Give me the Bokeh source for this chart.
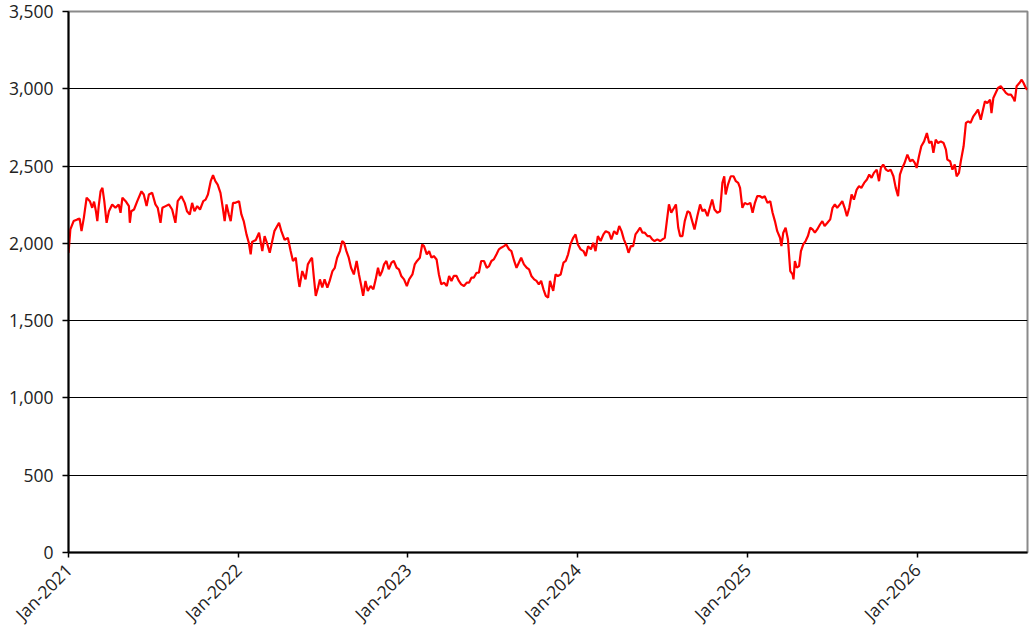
import math
import pandas as pd
from bokeh.plotting import figure
from bokeh.models import Range1d, FixedTicker, NumeralTickFormatter, DatetimeTickFormatter
from bokeh.embed import file_html
from bokeh.resources import INLINE

# ---- data (days since 2021-01-01, index level) ----
start_date = "2021-01-01"
days_a = [0,1,4,11,19,24,28,33,39,46,51,55,59,62,65,69,73,77,82,87,94,101,108,112,116,123,130,132,135,141,
          148,157,162,168,173,180,187,192,198,202,209,216,223,230,235,243,250,255,261,266,271,277,283,290,295,300,
          306,311,316,321,327,332,336,340,345,349,354,359,367,372,377,383,388,392,395,403,410,417,422,428,433,438,
          443,453,458,465,472,478,483,489,494,497,503,510,515,521]
vals_a = [1939,1972,2090,2144,2155,2160,2079,2165,2295,2273,2230,2270,2208,2144,2241,2337,2359,2273,2133,2208,
          2252,2230,2252,2198,2295,2273,2241,2133,2208,2219,2273,2337,2316,2241,2316,2327,2252,2230,2133,2230,
          2241,2252,2219,2133,2273,2305,2262,2208,2187,2262,2208,2241,2219,2273,2283,2316,2402,2441,2402,2380,
          2327,2230,2144,2252,2187,2144,2262,2262,2273,2187,2144,2058,2004,1929,2009,2022,2069,1950,2047,1993,
          1939,2009,2079,2133,2079,2022,2036,1950,1886,1907,1778,1718,1821,1767,1864,1896]
days_b = [524,528,532,537,541,546,551,557,562,568,573,578,584,589,593,598,603,608,614,620,625,630,634,639,644,
          650,656,661,666,670,675,679,684,689,695,700,706,711,716,722,728,733,740,745,750,756,761,765,771,776,
          781,786,792,797,802,808,814,819,824,829,835,840,845,851,857,862,867,872,878,883,888,894,900,905,910,
          915,921,926,931,937,942,948,953,959,964,969,974,980,986,991,996,1002,1007,1012,1017,1022,1027,1032,1036]
vals_b = [1907,1778,1660,1714,1767,1714,1767,1714,1757,1821,1842,1907,1950,2015,2004,1950,1907,1842,1799,1886,
          1799,1724,1660,1757,1692,1724,1703,1767,1842,1789,1821,1864,1886,1832,1875,1886,1842,1832,1789,1767,
          1724,1767,1799,1864,1886,1907,1993,1982,1929,1950,1907,1918,1896,1799,1735,1746,1724,1789,1757,1789,
          1789,1757,1735,1724,1746,1746,1778,1778,1810,1810,1886,1886,1842,1853,1886,1896,1929,1961,1972,1982,
          1993,1961,1950,1886,1842,1875,1907,1864,1842,1832,1789,1767,1757,1735,1757,1703,1660,1649,1757]
days_c = [1043,1048,1053,1059,1065,1070,1075,1080,1086,1091,1096,1102,1108,1113,1118,1124,1129,1134,1139,1145,
          1151,1156,1163,1168,1174,1180,1185,1190,1195,1201,1205,1210,1215,1220,1225,1230,1235,1240,1246,1251,
          1256,1261,1267,1273,1278,1283,1287,1292,1297,1303,1307,1312,1316,1321,1326,1332,1337,1342,1347,1353,
          1359,1364,1369,1375,1380,1385,1390,1396,1402,1407,1411,1414,1419,1425,1431,1436,1441,1445,1450,1455,
          1461,1467,1472,1477,1482,1488,1493,1498,1504,1510,1515,1520,1525,1531,1534,1538,1543,1548,1553]
vals_c = [1692,1799,1789,1799,1875,1886,1929,1993,2036,2058,1993,1961,1950,1918,1982,1961,2004,1950,2047,2015,
          2058,2079,2069,2026,2079,2058,2112,2079,2026,1982,1939,1982,1982,2058,2079,2101,2069,2069,2047,2047,
          2026,2015,2026,2015,2026,2036,2133,2252,2198,2230,2252,2101,2047,2047,2144,2208,2198,2144,2090,2176,
          2252,2208,2219,2176,2230,2283,2219,2198,2208,2391,2434,2316,2380,2434,2434,2402,2391,2359,2230,2262,
          2252,2262,2198,2262,2305,2305,2295,2305,2262,2273,2198,2144,2079,2036,1982,2069,2101,2026,1821]
days_d = [1558,1560,1563,1567,1572,1576,1581,1586,1591,1596,1601,1606,1611,1617,1622,1627,1633,1639,1644,1649,
          1654,1660,1665,1670,1675,1680,1685,1690,1696,1701,1706,1712,1718,1723,1728,1733,1739,1744,1748,1753,
          1759,1764,1769,1775,1780,1785,1789,1794,1799,1805,1811,1816,1821,1825,1830,1835,1841,1847,1852,1857,
          1861,1866,1871,1877,1883,1888,1891,1897,1902,1907,1911,1916,1920,1926,1931,1936,1941,1947,1952,1957,
          1963,1967,1972,1977,1983,1986,1990,1995,2000,2006,2012,2017,2022,2028,2033,2036,2040,2046,2051,2055,
          2060,2063]
vals_d = [1800,1767,1886,1843,1853,1950,1993,2015,2047,2101,2090,2069,2090,2122,2144,2112,2133,2155,2230,2252,
          2230,2252,2273,2230,2176,2230,2316,2283,2348,2370,2359,2391,2413,2445,2424,2456,2477,2402,2488,2510,
          2477,2467,2477,2434,2359,2305,2445,2488,2520,2574,2531,2542,2520,2488,2563,2628,2660,2714,2649,2660,
          2585,2671,2649,2660,2649,2606,2542,2531,2477,2510,2434,2456,2531,2628,2779,2789,2779,2822,2843,2865,
          2800,2854,2919,2908,2930,2843,2940,2973,3005,3016,2994,2973,2962,2962,2940,2919,3016,3037,3059,3037,
          3005,2994]

tick_dates = ["2021-01-01", "2022-01-01", "2023-01-01", "2024-01-01", "2025-01-01", "2026-01-01"]
tick_labels = ["Jan-2021", "Jan-2022", "Jan-2023", "Jan-2024", "Jan-2025", "Jan-2026"]
y_ticks = [0, 500, 1000, 1500, 2000, 2500, 3000, 3500]
x_end_days = 2063.5

# ---- build ----
start = pd.Timestamp(start_date)
days = days_a + days_b + days_c + days_d
vals = vals_a + vals_b + vals_c + vals_d
dates = [start + pd.Timedelta(days=d) for d in days]

p = figure(width=1035, height=636, x_axis_type="datetime",
           output_backend="svg", toolbar_location=None,
           x_range=Range1d(start, start + pd.Timedelta(days=x_end_days)),
           y_range=Range1d(0, 3500),
           min_border_left=68, min_border_right=8, min_border_top=11, min_border_bottom=84)

p.background_fill_color = "white"
p.border_fill_color = "white"
p.outline_line_color = "#8a8a8a"
p.outline_line_width = 2

p.line(dates, vals, line_color="#FF0000", line_width=2.2)

tick_ms = [pd.Timestamp(d).value // 10**6 for d in tick_dates]
p.xaxis.ticker = FixedTicker(ticks=tick_ms)
p.xaxis.major_label_overrides = {t: lab for t, lab in zip(tick_ms, tick_labels)}
p.xaxis.formatter = DatetimeTickFormatter(years="%b-%Y", months="%b-%Y", days="%b-%Y")
p.xaxis.major_label_orientation = math.pi / 4
p.xaxis.major_tick_out = 5
p.xaxis.major_tick_in = 0
p.xaxis.minor_tick_line_color = None
p.xaxis.major_label_standoff = 9

p.yaxis.ticker = FixedTicker(ticks=y_ticks)
p.yaxis.formatter = NumeralTickFormatter(format="0,0")
p.yaxis.major_tick_out = 6
p.yaxis.major_tick_in = 0
p.yaxis.minor_tick_line_color = None
p.yaxis.major_label_standoff = 9

for ax in (p.xaxis, p.yaxis):
    ax.axis_line_color = "black"
    ax.axis_line_width = 2
    ax.major_tick_line_color = "black"
    ax.major_tick_line_width = 1.5
    ax.major_label_text_font = "Open Sans"
    ax.major_label_text_font_size = "17.5px"
    ax.major_label_text_color = "#222222"

p.xgrid.visible = False
p.ygrid.ticker = FixedTicker(ticks=y_ticks[1:-1])
p.ygrid.grid_line_color = "black"
p.ygrid.grid_line_width = 1.2

open("out.html", "w").write(file_html(p, INLINE))
